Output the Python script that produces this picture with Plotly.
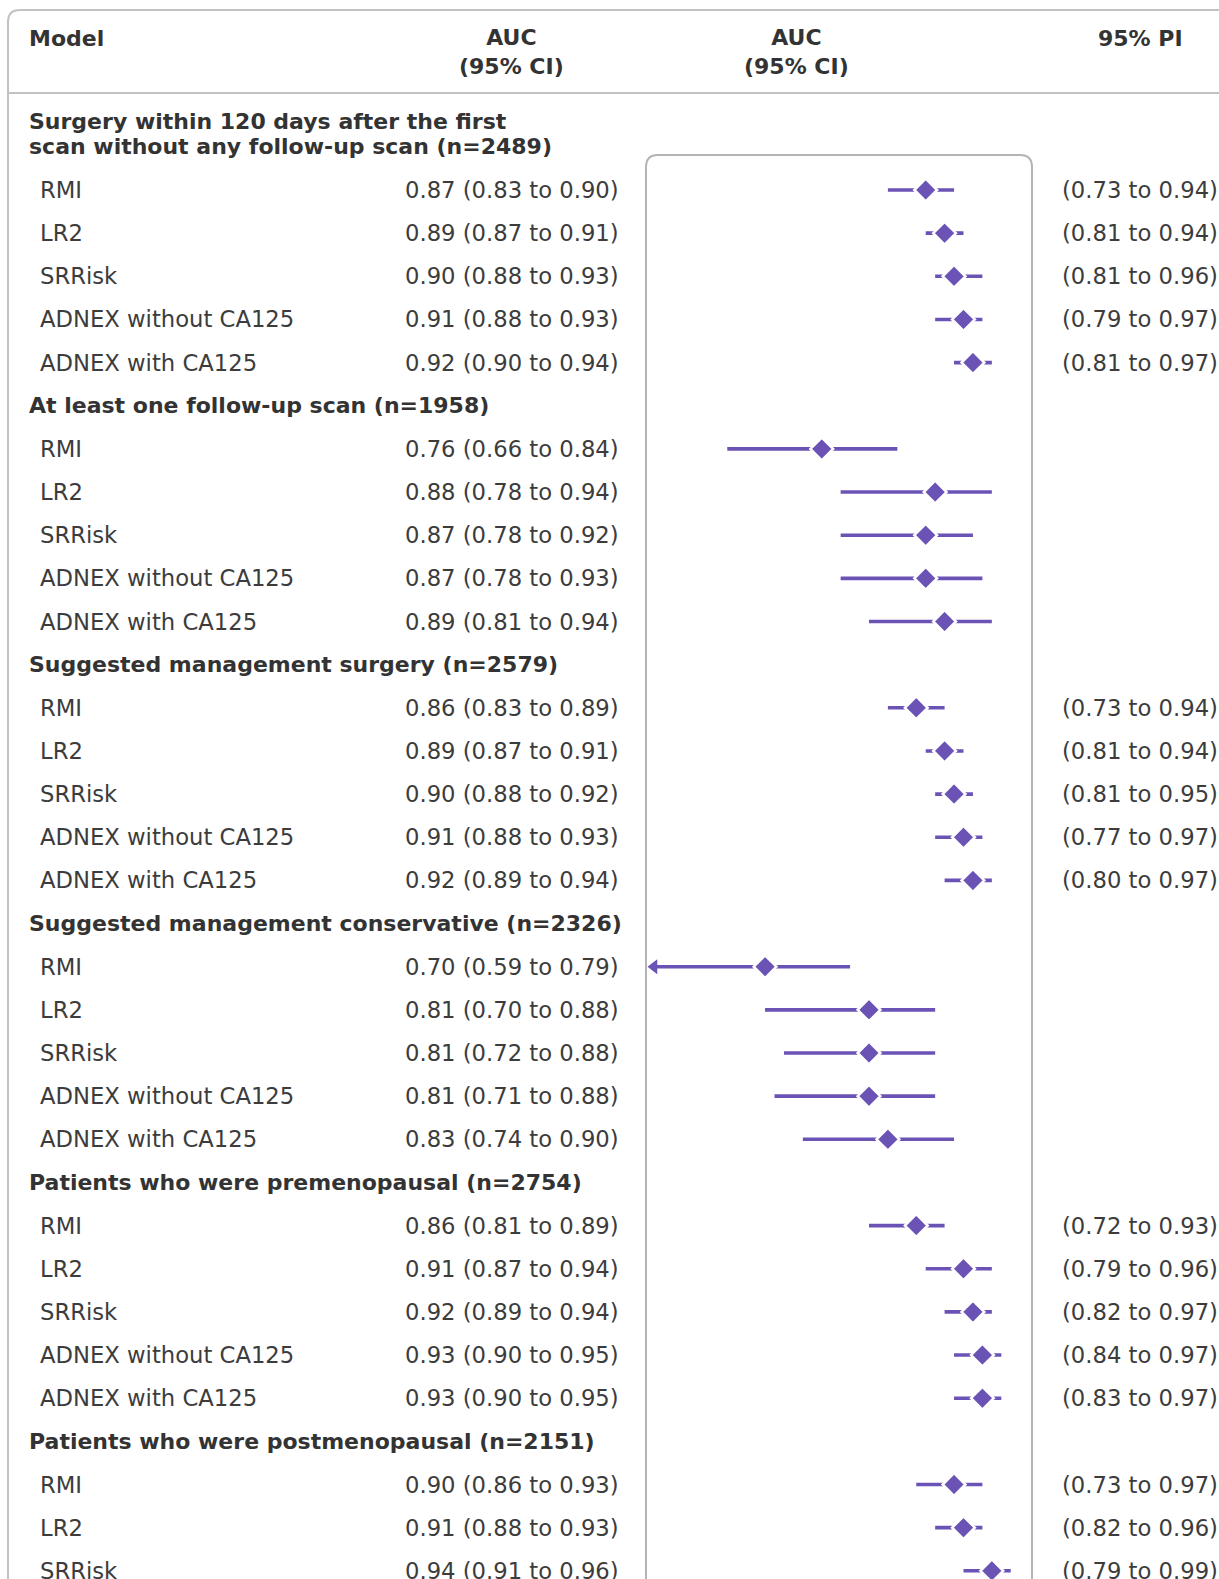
import plotly.graph_objects as go

# ---------------- data ----------------
groups = [
    "Surgery within 120 days after the first\nscan without any follow-up scan (n=2489)",
    "At least one follow-up scan (n=1958)",
    "Suggested management surgery (n=2579)",
    "Suggested management conservative (n=2326)",
    "Patients who were premenopausal (n=2754)",
    "Patients who were postmenopausal (n=2151)",
]
models = ["RMI", "LR2", "SRRisk", "ADNEX without CA125", "ADNEX with CA125"]

auc = [
    [0.87, 0.89, 0.90, 0.91, 0.92],
    [0.76, 0.88, 0.87, 0.87, 0.89],
    [0.86, 0.89, 0.90, 0.91, 0.92],
    [0.70, 0.81, 0.81, 0.81, 0.83],
    [0.86, 0.91, 0.92, 0.93, 0.93],
    [0.90, 0.91, 0.94],
]
ci_low = [
    [0.83, 0.87, 0.88, 0.88, 0.90],
    [0.66, 0.78, 0.78, 0.78, 0.81],
    [0.83, 0.87, 0.88, 0.88, 0.89],
    [0.59, 0.70, 0.72, 0.71, 0.74],
    [0.81, 0.87, 0.89, 0.90, 0.90],
    [0.86, 0.88, 0.91],
]
ci_high = [
    [0.90, 0.91, 0.93, 0.93, 0.94],
    [0.84, 0.94, 0.92, 0.93, 0.94],
    [0.89, 0.91, 0.92, 0.93, 0.94],
    [0.79, 0.88, 0.88, 0.88, 0.90],
    [0.89, 0.94, 0.94, 0.95, 0.95],
    [0.93, 0.93, 0.96],
]
pi_low = [
    [0.73, 0.81, 0.81, 0.79, 0.81],
    None,
    [0.73, 0.81, 0.81, 0.77, 0.80],
    None,
    [0.72, 0.79, 0.82, 0.84, 0.83],
    [0.73, 0.82, 0.79],
]
pi_high = [
    [0.94, 0.94, 0.96, 0.97, 0.97],
    None,
    [0.94, 0.94, 0.95, 0.97, 0.97],
    None,
    [0.93, 0.96, 0.97, 0.97, 0.97],
    [0.97, 0.96, 0.99],
]
header_model = "Model"
header_auc = "AUC<br>(95% CI)"
header_pi = "95% PI"

# ---------------- layout constants ----------------
W, H = 1219, 1579
FONT = "DejaVu Sans"
FS = 22.7
FSB = 22
TXT = "#3c3c3c"
TXTB = "#333333"
PURPLE = "#6b53b6"
FRAME = "#c2c2c2"
BOX = "#b4b4b4"

X_RANGE = [0.574, 0.9825]        # forest axis range
X_CUT = 0.60                     # CIs below this are drawn as an arrow
BOX_L, BOX_R = 646, 1032         # pixel domain of the forest axis
ROW_PX, ROW1_PX = 43.15, 190     # row pitch / first model row pixel
Y_RANGE = [1 + (H - ROW1_PX) / ROW_PX, 1 - ROW1_PX / ROW_PX]


def fx(px):
    return px / W


def fy(py):
    return 1 - py / H


# ---------------- rows ----------------
rows = []  # (kind, s, group_idx, model_idx)
s = 0
for g, name in enumerate(groups):
    rows.append(("head", s, g, None))
    s += 1
    for m in range(len(auc[g])):
        rows.append(("model", s, g, m))
        s += 1

fig = go.Figure()
annotations = []

line_x, line_y = [], []
pt_x, pt_y = [], []
arr_x, arr_y = [], []
arrow_offset = (X_RANGE[1] - X_RANGE[0]) / (BOX_R - BOX_L) * 8

for kind, yv, g, m in rows:
    if kind == "head":
        parts = groups[g].split("\n")
        n = len(parts)
        for i, p in enumerate(parts):
            annotations.append(dict(
                x=fx(27), xref="paper", y=yv - (n - 1 - i) * 25 / ROW_PX, yref="y",
                text="<b>" + p + "</b>", showarrow=False, xanchor="left", yanchor="middle",
                font=dict(family=FONT, size=FSB, color=TXTB)))
        continue
    a, lo, hi = auc[g][m], ci_low[g][m], ci_high[g][m]
    annotations.append(dict(
        x=fx(38), xref="paper", y=yv, yref="y", text=models[m], showarrow=False,
        xanchor="left", yanchor="middle", font=dict(family=FONT, size=FS, color=TXT)))
    annotations.append(dict(
        x=fx(621), xref="paper", y=yv, yref="y",
        text=f"{a:.2f} ({lo:.2f} to {hi:.2f})", showarrow=False,
        xanchor="right", yanchor="middle", font=dict(family=FONT, size=FS, color=TXT)))
    if pi_low[g] is not None:
        annotations.append(dict(
            x=fx(1060), xref="paper", y=yv, yref="y",
            text=f"({pi_low[g][m]:.2f} to {pi_high[g][m]:.2f})", showarrow=False,
            xanchor="left", yanchor="middle", font=dict(family=FONT, size=FS, color=TXT)))
    start = lo
    if lo < X_CUT:
        start = X_RANGE[0] + arrow_offset
        arr_x.append(start)
        arr_y.append(yv)
    line_x += [start, hi, None]
    line_y += [yv, yv, None]
    pt_x.append(a)
    pt_y.append(yv)

fig.add_trace(go.Scatter(x=line_x, y=line_y, mode="lines",
                         line=dict(color=PURPLE, width=3.6), hoverinfo="skip",
                         showlegend=False))
fig.add_trace(go.Scatter(x=arr_x, y=arr_y, mode="markers",
                         marker=dict(symbol="triangle-left", size=13, color=PURPLE),
                         hoverinfo="skip", showlegend=False))
fig.add_trace(go.Scatter(x=pt_x, y=pt_y, mode="markers",
                         marker=dict(symbol="diamond", size=17.5, color=PURPLE,
                                     line=dict(color="white", width=2.5)),
                         showlegend=False))

# column headers
hfont = dict(family=FONT, size=FSB, color=TXTB)
annotations += [
    dict(x=fx(27), xref="paper", y=fy(38), yref="paper", text="<b>" + header_model + "</b>",
         showarrow=False, xanchor="left", yanchor="middle", font=hfont),
    dict(x=fx(511), xref="paper", y=fy(52), yref="paper", text="<b>" + header_auc + "</b>",
         showarrow=False, xanchor="center", yanchor="middle", font=hfont),
    dict(x=fx(796), xref="paper", y=fy(52), yref="paper", text="<b>" + header_auc + "</b>",
         showarrow=False, xanchor="center", yanchor="middle", font=hfont),
    dict(x=fx(1140), xref="paper", y=fy(38), yref="paper", text="<b>" + header_pi + "</b>",
         showarrow=False, xanchor="center", yanchor="middle", font=hfont),
]

# frames
r = 12
outer = (f"M {fx(8)},{fy(H + 20)} L {fx(8)},{fy(10 + r)} "
         f"Q {fx(8)},{fy(10)} {fx(8 + r)},{fy(10)} L {fx(W + 20)},{fy(10)}")
box = (f"M {fx(BOX_L)},{fy(H + 20)} L {fx(BOX_L)},{fy(155 + r)} "
       f"Q {fx(BOX_L)},{fy(155)} {fx(BOX_L + r)},{fy(155)} L {fx(BOX_R - r)},{fy(155)} "
       f"Q {fx(BOX_R)},{fy(155)} {fx(BOX_R)},{fy(155 + r)} L {fx(BOX_R)},{fy(H + 20)}")
shapes = [
    dict(type="path", path=outer, xref="paper", yref="paper", line=dict(color=FRAME, width=2)),
    dict(type="line", x0=fx(8), x1=fx(W + 20), y0=fy(93), y1=fy(93), xref="paper", yref="paper",
         line=dict(color=FRAME, width=2)),
    dict(type="path", path=box, xref="paper", yref="paper", line=dict(color=BOX, width=2),
         layer="below"),
]

fig.update_layout(
    width=W, height=H, margin=dict(l=0, r=0, t=0, b=0),
    paper_bgcolor="white", plot_bgcolor="rgba(0,0,0,0)",
    xaxis=dict(domain=[fx(BOX_L), fx(BOX_R)], range=X_RANGE, visible=False, fixedrange=True),
    yaxis=dict(domain=[0, 1], range=Y_RANGE, visible=False, fixedrange=True),
    annotations=annotations, shapes=shapes, showlegend=False,
)

post = ("document.documentElement.style.margin='0';"
        "document.documentElement.style.padding='0';"
        "document.documentElement.style.overflow='hidden';"
        "document.body.style.margin='0';"
        "document.body.style.padding='0';"
        "document.body.style.overflow='hidden';")
fig.write_html("out.html", config={"displayModeBar": False}, post_script=post)
